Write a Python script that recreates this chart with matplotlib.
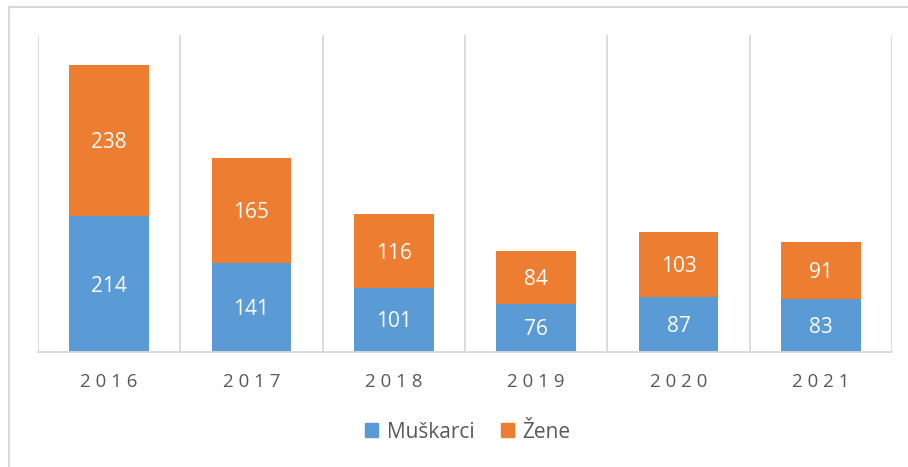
import matplotlib
matplotlib.use("Agg")
import matplotlib.pyplot as plt
import matplotlib.transforms as mtransforms
from matplotlib.lines import Line2D
from matplotlib.patches import Patch

years = ["2016", "2017", "2018", "2019", "2020", "2021"]
muskarci = [214, 141, 101, 76, 87, 83]
zene = [238, 165, 116, 84, 103, 91]

blue = "#5B9BD5"
orange = "#ED7D31"
grid = "#D9D9D9"
txt = "#595959"

plt.rcParams['font.family'] = ['Open Sans', 'DejaVu Sans']

W, H = 908, 467
fig = plt.figure(figsize=(W / 100, H / 100), dpi=100)
ax = fig.add_axes([38 / W, 1 - 352 / H, (892 - 38) / W, (352 - 35) / H])

x = list(range(len(years)))
bw = 0.56
ax.bar(x, muskarci, bw, color=blue, label="Muškarci")
ax.bar(x, zene, bw, bottom=muskarci, color=orange, label="Žene")

# nudge labels a couple of pixels down so they sit in the middle of the segment
lbl_tr = mtransforms.offset_copy(ax.transData, fig=fig, x=0, y=-2, units="dots")
for i in x:
    ax.text(i, muskarci[i] / 2, str(muskarci[i]), ha="center", va="center",
            color="white", fontsize=15, transform=lbl_tr)
    ax.text(i, muskarci[i] + zene[i] / 2, str(zene[i]), ha="center", va="center",
            color="white", fontsize=15, transform=lbl_tr)

ax.set_xlim(-0.5, len(years) - 0.5)
ax.set_ylim(0, 500)

# category separators
for k in range(len(years) + 1):
    ax.axvline(k - 0.5, color=grid, lw=1.3, zorder=0)

for s in ["top", "right", "left"]:
    ax.spines[s].set_visible(False)
ax.spines["bottom"].set_color(grid)
ax.spines["bottom"].set_linewidth(1.3)
ax.set_yticks([])
ax.set_xticks(x)
ax.set_xticklabels([" ".join(y) for y in years], color=txt, fontsize=13.5)
ax.tick_params(axis="x", length=0, pad=15)

handles = [Patch(color=blue), Patch(color=orange)]
fig.legend(handles, ["Muškarci", "Žene"], loc="center", bbox_to_anchor=(468 / W, 1 - 432 / H),
           ncol=2, frameon=False, fontsize=15, labelcolor=txt,
           handlelength=0.62, handleheight=0.62, handletextpad=0.4, columnspacing=1.3)

# outer chart border (top and left visible in the crop)
fig.add_artist(Line2D([8.5 / W, 8.5 / W], [0, 1 - 6.5 / H], transform=fig.transFigure,
                      color=grid, lw=1.5))
fig.add_artist(Line2D([8.5 / W, 1], [1 - 6.5 / H, 1 - 6.5 / H], transform=fig.transFigure,
                      color=grid, lw=1.5))

fig.savefig("out.png", dpi=100)
